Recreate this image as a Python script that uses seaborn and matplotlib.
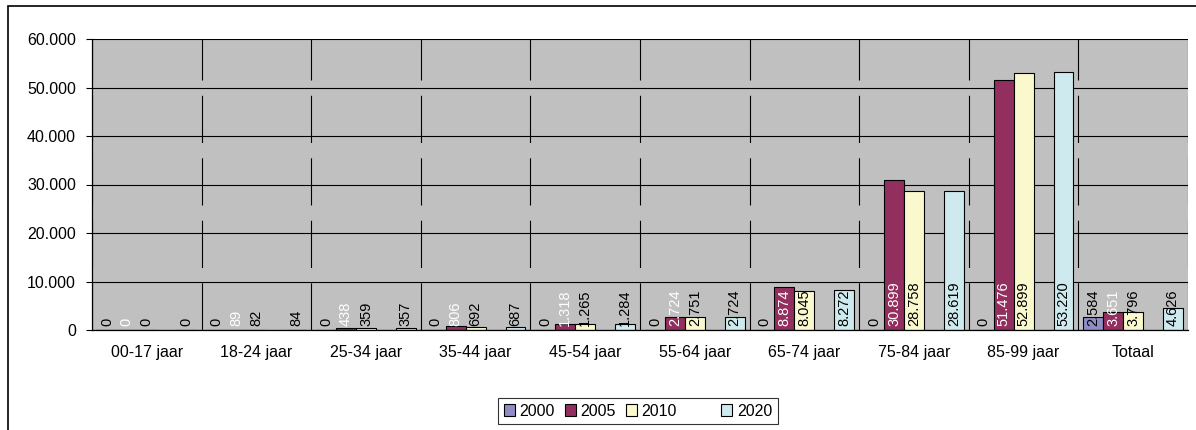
import matplotlib
matplotlib.use("Agg")
import matplotlib.pyplot as plt
import seaborn as sns
import numpy as np
import pandas as pd
from matplotlib.patches import Patch, Rectangle
from matplotlib.ticker import FuncFormatter, FixedLocator

categories = ["00-17 jaar", "18-24 jaar", "25-34 jaar", "35-44 jaar", "45-54 jaar",
              "55-64 jaar", "65-74 jaar", "75-84 jaar", "85-99 jaar", "Totaal"]
series_names = ["2000", "2005", "2010", " ", "2020"]
v2000 = [0, 0, 0, 0, 0, 0, 0, 0, 0, 2584]
v2005 = [0, 89, 438, 806, 1318, 2724, 8874, 30899, 51476, 3651]
v2010 = [0, 82, 359, 692, 1265, 2751, 8045, 28758, 52899, 3796]
vblank = [np.nan] * 10
v2020 = [0, 84, 357, 687, 1284, 2724, 8272, 28619, 53220, 4626]
y_ticks = [0, 10000, 20000, 30000, 40000, 50000, 60000]

series_values = [v2000, v2005, v2010, vblank, v2020]
colors = ["#8F8CC6", "#932F5E", "#FAF8CD", "#C0C0C0", "#CEEAEE"]
label_colors = ["black", "white", "black", None, "black"]

sns.set_style("white")
plt.rcParams["font.family"] = ["Liberation Sans", "DejaVu Sans"]
plt.rcParams["lines.scale_dashes"] = False
plt.rcParams["text.color"] = "black"
plt.rcParams["xtick.labelcolor"] = "black"
plt.rcParams["ytick.labelcolor"] = "black"
plt.rcParams["xtick.color"] = "black"
plt.rcParams["ytick.color"] = "black"

rows = []
for name, vals in zip(series_names, series_values):
    for c, v in zip(categories, vals):
        rows.append({"cat": c, "val": v, "series": name})
df = pd.DataFrame(rows)

fig = plt.figure(figsize=(11.96, 4.30), dpi=100)
ax = fig.add_axes([92 / 1196, 1 - 330 / 430, (1188 - 92) / 1196, (330 - 39) / 430])
ax.set_facecolor("#C0C0C0")

sns.barplot(data=df, x="cat", y="val", hue="series", order=categories,
            hue_order=series_names, palette=dict(zip(series_names, colors)),
            width=0.91, gap=0, edgecolor="black", linewidth=0.8, saturation=1,
            errorbar=None, legend=False, ax=ax, zorder=3)

ax.set_xlim(-0.5, len(categories) - 0.5)
ax.set_ylim(y_ticks[0], y_ticks[-1])
ax.set_xlabel("")
ax.set_ylabel("")

# grid
ax.yaxis.set_major_locator(FixedLocator(y_ticks))
ax.yaxis.set_major_formatter(FuncFormatter(lambda v, p: f"{v:,.0f}".replace(",", ".")))
ax.grid(axis="y", which="major", color="black", linewidth=0.8, zorder=1)
ax.set_axisbelow(True)
ax.xaxis.set_minor_locator(FixedLocator([i - 0.5 for i in range(len(categories) + 1)]))
ax.grid(axis="x", which="minor", color="black", linewidth=0.8, linestyle=(0, (34, 11)))
ax.grid(axis="x", which="major", visible=False)

ax.tick_params(axis="x", which="major", length=0, pad=11, labelsize=11.5, labelcolor="black")
ax.tick_params(axis="x", which="minor", length=4.5, width=0.8, direction="out", color="black")
ax.tick_params(axis="y", which="major", length=4.5, width=0.8, direction="out", pad=7,
               labelsize=11.5, color="black", labelcolor="black", left=True)

for s in ["top", "right"]:
    ax.spines[s].set_visible(False)
for s in ["left", "bottom"]:
    ax.spines[s].set_color("black")
    ax.spines[s].set_linewidth(0.9)
    ax.spines[s].set_zorder(4)

# data labels (inside base)
visible = [i for i, n in enumerate(series_names) if n.strip()]
conts = list(ax.containers)
if len(conts) == len(series_names):
    conts = [conts[i] for i in visible]
for idx, cont in zip(visible, conts):
    vals = series_values[idx]
    for bar, v in zip(cont.patches, vals):
        cx = bar.get_x() + bar.get_width() / 2
        ax.annotate(f"{v:,.0f}".replace(",", "."), xy=(cx, 0), xytext=(0, 3),
                    textcoords="offset points", rotation=90, ha="center", va="bottom",
                    fontsize=10.5, color=label_colors[idx], zorder=5)

# legend
handles = []
for n, c in zip(series_names, colors):
    if n.strip():
        handles.append(Patch(facecolor=c, edgecolor="black", linewidth=0.8, label=n))
    else:
        handles.append(Patch(facecolor="none", edgecolor="none", label="  "))
leg = fig.legend(handles=handles, loc="center", bbox_to_anchor=(638 / 1196, 1 - 411 / 430),
                 ncol=5, fontsize=11.5, frameon=True, fancybox=False, handlelength=0.7,
                 handleheight=0.7, handletextpad=0.3, columnspacing=0.6, borderpad=0.35)
leg.get_frame().set_edgecolor("black")
leg.get_frame().set_linewidth(0.8)
for t in leg.get_texts():
    t.set_color("black")

fig.patches.append(Rectangle((8 / 1196, -0.1), 1.5, 1 - 6 / 430 + 0.1, transform=fig.transFigure,
                             fill=False, edgecolor="black", linewidth=1.2))

fig.savefig("out.png", dpi=100)
